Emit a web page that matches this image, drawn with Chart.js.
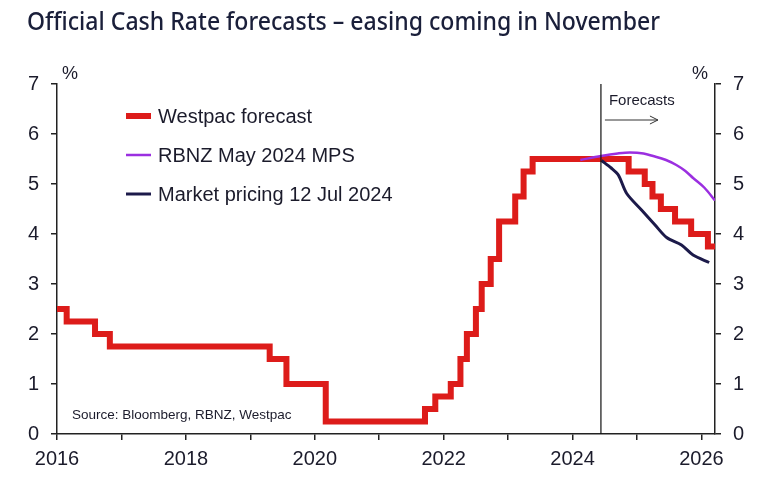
<!DOCTYPE html>
<html>
<head>
<meta charset="utf-8">
<script src="https://cdn.jsdelivr.net/npm/chart.js@4"></script>
<style>
  html, body { margin: 0; padding: 0; background: #fff; }
  #wrap { width: 766px; height: 504px; position: relative; }
</style>
</head>
<body>
<div id="wrap"><canvas id="ocrChart" width="766" height="504"></canvas></div>
<script>
// Westpac OCR (actual + forecast) - dates where the rate changes
const westpacDates = [2016.0, 2016.15, 2016.59, 2016.82, 2019.30, 2019.56, 2020.17, 2021.71, 2021.87,
  2022.11, 2022.26, 2022.36, 2022.50, 2022.59, 2022.73, 2022.86, 2023.11, 2023.24, 2023.38,
  2024.87, 2025.12, 2025.24, 2025.37, 2025.59, 2025.84, 2026.10, 2026.21];
const westpacRates = [2.5, 2.25, 2.0, 1.75, 1.5, 1.0, 0.25, 0.5, 0.75,
  1.0, 1.5, 2.0, 2.5, 3.0, 3.5, 4.25, 4.75, 5.25, 5.5,
  5.25, 5.0, 4.75, 4.5, 4.25, 4.0, 3.75, 3.75];

// RBNZ May 2024 MPS track
const rbnzDates = [2024.12, 2024.44, 2024.70, 2024.89, 2025.10, 2025.25, 2025.45, 2025.61, 2025.75, 2025.87, 2026.05, 2026.21];
const rbnzRates = [5.48, 5.56, 5.61, 5.63, 5.61, 5.56, 5.48, 5.38, 5.26, 5.12, 4.92, 4.67];

// Market pricing 12 Jul 2024
const marketDates = [2024.45, 2024.60, 2024.71, 2024.84, 2025.07, 2025.28, 2025.46, 2025.69, 2025.87, 2026.12];
const marketRates = [5.47, 5.32, 5.18, 4.81, 4.48, 4.18, 3.93, 3.78, 3.58, 3.43];

const xMin = 2016;
const xMax = 2026.21;
const forecastStart = 2024.44;
const yTicks = [0, 1, 2, 3, 4, 5, 6, 7];

const toPoints = (xs, ys) => xs.map((x, i) => ({ x: x, y: ys[i] }));

const textColor = '#1b1b2b';
const axisColor = '#222222';
const tickFont = { family: '"Liberation Sans", Arial, sans-serif', size: 20 };

const annotations = {
  id: 'annotations',
  afterDraw(chart) {
    const ctx = chart.ctx;
    const xs = chart.scales.x;
    const ys = chart.scales.y;

    // forecast divider
    const fx = xs.getPixelForValue(forecastStart);
    ctx.save();
    ctx.strokeStyle = '#111';
    ctx.lineWidth = 1.2;
    ctx.beginPath();
    ctx.moveTo(fx, ys.getPixelForValue(7));
    ctx.lineTo(fx, ys.getPixelForValue(0));
    ctx.stroke();

    // "Forecasts" label and arrow
    ctx.fillStyle = textColor;
    ctx.font = '15px "Liberation Sans", Arial, sans-serif';
    ctx.textAlign = 'left';
    ctx.textBaseline = 'alphabetic';
    ctx.fillText('Forecasts', fx + 8, 105);
    ctx.strokeStyle = '#333';
    ctx.lineWidth = 1;
    ctx.beginPath();
    ctx.moveTo(fx + 4, 120);
    ctx.lineTo(fx + 57, 120);
    ctx.moveTo(fx + 49, 116);
    ctx.lineTo(fx + 57, 120);
    ctx.lineTo(fx + 49, 124);
    ctx.stroke();

    // title, squeezed to the condensed width of the original
    const title = 'Official Cash Rate forecasts \u2013 easing coming in November';
    ctx.font = '500 25px "Noto Sans", sans-serif';
    const w = ctx.measureText(title).width;
    ctx.save();
    ctx.translate(27, 30);
    ctx.scale(633 / w, 1);
    ctx.fillStyle = '#1a1f3a';
    ctx.fillText(title, 0, 0);
    ctx.restore();

    // % unit labels
    ctx.font = '18px "Liberation Sans", Arial, sans-serif';
    ctx.fillStyle = textColor;
    ctx.textAlign = 'center';
    ctx.fillText('%', 70, 79);
    ctx.fillText('%', 700, 79);

    // source
    ctx.textAlign = 'left';
    ctx.font = '13.5px "Liberation Sans", Arial, sans-serif';
    ctx.fillText('Source: Bloomberg, RBNZ, Westpac', 72, 419);

    // legend
    const legend = [
      { label: 'Westpac forecast', color: '#dd1c1a', width: 6, y: 116 },
      { label: 'RBNZ May 2024 MPS', color: '#9b2fe0', width: 2.5, y: 155 },
      { label: 'Market pricing 12 Jul 2024', color: '#1c1a4a', width: 3, y: 194 }
    ];
    ctx.font = '20px "Liberation Sans", Arial, sans-serif';
    ctx.textBaseline = 'middle';
    legend.forEach(item => {
      ctx.strokeStyle = item.color;
      ctx.lineWidth = item.width;
      ctx.lineCap = 'butt';
      ctx.beginPath();
      ctx.moveTo(126, item.y);
      ctx.lineTo(151, item.y);
      ctx.stroke();
      ctx.fillStyle = textColor;
      ctx.fillText(item.label, 158, item.y + 1);
    });
    ctx.restore();
  }
};

const yAxis = (position, width) => ({
  type: 'linear',
  position: position,
  min: 0,
  max: 7,
  display: true,
  afterBuildTicks: (scale) => { scale.ticks = yTicks.map(v => ({ value: v })); },
  afterFit: (scale) => { scale.width = width; },
  ticks: { color: textColor, font: tickFont, padding: 12 },
  grid: { drawOnChartArea: false, drawTicks: true, tickLength: 6, color: axisColor, lineWidth: 1.5 },
  border: { display: true, color: axisColor, width: 1.5 }
});

new Chart(document.getElementById('ocrChart'), {
  type: 'line',
  data: {
    datasets: [
      {
        label: 'RBNZ May 2024 MPS',
        data: toPoints(rbnzDates, rbnzRates),
        borderColor: '#9b2fe0',
        borderWidth: 2.5,
        pointRadius: 0,
        tension: 0.4,
        cubicInterpolationMode: 'monotone',
        yAxisID: 'y'
      },
      {
        label: 'Market pricing 12 Jul 2024',
        data: toPoints(marketDates, marketRates),
        borderColor: '#1c1a4a',
        borderWidth: 3,
        pointRadius: 0,
        tension: 0.3,
        yAxisID: 'y'
      },
      {
        label: 'Westpac forecast',
        data: toPoints(westpacDates, westpacRates),
        borderColor: '#dd1c1a',
        borderWidth: 6,
        pointRadius: 0,
        stepped: 'before',
        borderJoinStyle: 'miter',
        borderCapStyle: 'butt',
        yAxisID: 'y'
      }
    ]
  },
  options: {
    responsive: false,
    animation: false,
    layout: { padding: { top: 84, left: 0, right: 0, bottom: 0 } },
    plugins: {
      legend: { display: false },
      tooltip: { enabled: false },
      title: { display: false }
    },
    scales: {
      x: {
        type: 'linear',
        min: xMin,
        max: xMax,
        afterBuildTicks: (scale) => {
          const t = [];
          for (let v = 2016; v <= 2026; v++) t.push({ value: v });
          scale.ticks = t;
        },
        afterFit: (scale) => { scale.height = 70; },
        ticks: {
          color: textColor,
          font: tickFont,
          autoSkip: false,
          maxRotation: 0,
          padding: 7,
          callback: (v) => (v % 2 === 0 ? String(v) : '')
        },
        grid: { drawOnChartArea: false, drawTicks: true, tickLength: 6, color: axisColor, lineWidth: 1.5 },
        border: { display: true, color: axisColor, width: 1.5 }
      },
      y: yAxis('left', 57),
      y2: yAxis('right', 51)
    }
  },
  plugins: [annotations]
});
</script>
</body>
</html>
